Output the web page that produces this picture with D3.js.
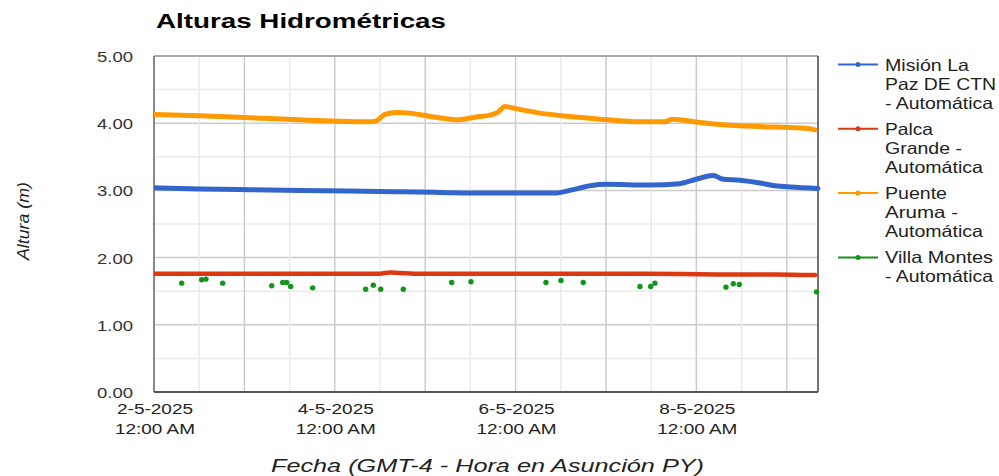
<!DOCTYPE html>
<html>
<head>
<meta charset="utf-8">
<script src="https://cdn.jsdelivr.net/npm/d3@7/dist/d3.min.js"></script>
<style>
html,body{margin:0;padding:0;background:#fff;}
svg{display:block;font-family:"Liberation Sans",Arial,sans-serif;}
</style>
</head>
<body>
<div id="chart"></div>
<script>
// ---------- DATA (hours after 2-5-2025 00:00, GMT-4) ----------
const chartTitle = "Alturas Hidrométricas";
const yAxisTitle = "Altura (m)";
const xAxisTitle = "Fecha (GMT-4 - Hora en Asunción PY)";
const seriesNames = ["Misión La Paz DE CTN - Automática", "Palca Grande - Automática", "Puente Aruma - Automática", "Villa Montes - Automática"];
const legendLines = [["Misión La", "Paz DE CTN", "- Automática"], ["Palca", "Grande -", "Automática"], ["Puente", "Aruma -", "Automática"], ["Villa Montes", "- Automática"]];
const seriesColors = ["#3366cc", "#dc3912", "#ff9900", "#109618"];
const yTicks = [0, 1, 2, 3, 4, 5];
const yTickLabels = ["0.00", "1.00", "2.00", "3.00", "4.00", "5.00"];
const xTickDays = [2, 4, 6, 8];
const xTickLabels = [["2-5-2025", "12:00 AM"], ["4-5-2025", "12:00 AM"], ["6-5-2025", "12:00 AM"], ["8-5-2025", "12:00 AM"]];
const endHour = 176.3;

const misionHours  = [0, 12.2, 25.5, 38.8, 52, 65.3, 75.9, 86.5, 97.2, 106.5, 110.4, 115.8, 120, 131.7, 139.6, 144.2, 148.4, 149.7, 150.8, 155.6, 160.9, 164.9, 168.9, 176.3];
const misionValues = [3.04, 3.02, 3.01, 3.00, 2.99, 2.98, 2.97, 2.96, 2.96, 2.96, 3.00, 3.07, 3.09, 3.08, 3.10, 3.17, 3.22, 3.20, 3.17, 3.15, 3.11, 3.07, 3.05, 3.03];

const palcaHours  = [0, 30, 60, 62.7, 65.3, 70, 100, 130, 150, 165, 175.5];
const palcaValues = [1.76, 1.76, 1.76, 1.78, 1.77, 1.76, 1.76, 1.76, 1.75, 1.75, 1.74];

const puenteHours  = [0, 12.2, 25.5, 38.8, 49.4, 57.3, 59.2, 61.3, 64.5, 67.9, 73.3, 78.6, 80.7, 85.2, 89.2, 91.3, 93.2, 95.8, 102.5, 110.4, 118.4, 129, 135.7, 137.5, 139.6, 144.9, 152.9, 160.9, 171.5, 173.6, 175.5];
const puenteValues = [4.13, 4.11, 4.08, 4.05, 4.03, 4.02, 4.04, 4.13, 4.16, 4.15, 4.10, 4.06, 4.05, 4.09, 4.12, 4.16, 4.25, 4.22, 4.15, 4.10, 4.06, 4.02, 4.02, 4.06, 4.05, 4.01, 3.97, 3.95, 3.93, 3.92, 3.90];

const villaHours  = [7.35, 12.66, 13.8, 18.24, 31.25, 34.17, 35.23, 36.29, 42.13, 56.2, 58.22, 60.19, 66.19, 79.04, 84.16, 104.07, 108.05, 113.97, 129.03, 131.87, 133.0, 151.86, 153.8, 155.4, 175.9];
const villaValues = [1.62, 1.67, 1.68, 1.62, 1.58, 1.63, 1.63, 1.57, 1.55, 1.53, 1.59, 1.53, 1.53, 1.63, 1.64, 1.63, 1.66, 1.63, 1.57, 1.57, 1.62, 1.56, 1.61, 1.60, 1.49];

// ---------- LAYOUT ----------
const W = 999, H = 476;
const plot = {left: 154, right: 818, top: 56, bottom: 392};
const t0 = new Date(2025, 4, 2, 0, 0);
const hourToDate = h => new Date(t0.getTime() + h * 3600000);

const svg = d3.select("#chart").append("svg").attr("width", W).attr("height", H);

const x = d3.scaleTime().domain([t0, hourToDate(endHour)]).range([plot.left, plot.right]);
const y = d3.scaleLinear().domain([0, 5]).range([plot.bottom, plot.top]);

// grid lines
const g = svg.append("g");
const halfSteps = d3.range(0, 5.01, 0.5);
g.selectAll("line.hg").data(halfSteps).join("line")
  .attr("x1", plot.left).attr("x2", plot.right)
  .attr("y1", d => y(d)).attr("y2", d => y(d))
  .attr("stroke", d => Number.isInteger(d) ? "#cccccc" : "#ebebeb")
  .attr("stroke-width", 1.5);
const vTimes = d3.timeHour.every(12).range(t0, hourToDate(endHour));
g.selectAll("line.vg").data(vTimes).join("line")
  .attr("x1", d => x(d)).attr("x2", d => x(d))
  .attr("y1", plot.top).attr("y2", plot.bottom)
  .attr("stroke", d => d.getHours() === 0 ? "#cccccc" : "#ebebeb")
  .attr("stroke-width", 1.5);

// border
svg.append("line").attr("x1", plot.left).attr("x2", plot.right).attr("y1", plot.top).attr("y2", plot.top).attr("stroke", "#999").attr("stroke-width", 1.5);
svg.append("line").attr("x1", plot.right).attr("x2", plot.right).attr("y1", plot.top).attr("y2", plot.bottom).attr("stroke", "#444").attr("stroke-width", 1.5);
svg.append("line").attr("x1", plot.left).attr("x2", plot.left).attr("y1", plot.top).attr("y2", plot.bottom).attr("stroke", "#888").attr("stroke-width", 2);
svg.append("line").attr("x1", plot.left).attr("x2", plot.right).attr("y1", plot.bottom).attr("y2", plot.bottom).attr("stroke", "#555").attr("stroke-width", 2);

// series
const line = d3.line().x(d => x(hourToDate(d[0]))).y(d => y(d[1])).curve(d3.curveMonotoneX);
const lineSeries = [
  {hours: misionHours, values: misionValues, color: seriesColors[0], w: 5},
  {hours: palcaHours, values: palcaValues, color: seriesColors[1], w: 4.5},
  {hours: puenteHours, values: puenteValues, color: seriesColors[2], w: 5}
];
svg.append("clipPath").attr("id", "clip").append("rect")
  .attr("x", plot.left).attr("y", plot.top).attr("width", plot.right - plot.left + 3).attr("height", plot.bottom - plot.top);
const marks = svg.append("g").attr("clip-path", "url(#clip)");
// draw order: orange, blue, red
[2, 0, 1].forEach(i => {
  const s = lineSeries[i];
  const pts = s.hours.map((h, k) => [h, s.values[k]]);
  marks.append("path").datum(pts).attr("d", line)
    .attr("fill", "none").attr("stroke", s.color).attr("stroke-width", s.w)
    .attr("stroke-linejoin", "round").attr("stroke-linecap", "round");
});
marks.selectAll("circle.vm").data(villaHours.map((h, k) => [h, villaValues[k]])).join("circle")
  .attr("cx", d => x(hourToDate(d[0]))).attr("cy", d => y(d[1])).attr("r", 2.7)
  .attr("fill", seriesColors[3]);

// y axis labels
svg.selectAll("text.yl").data(yTicks).join("text")
  .attr("x", 133).attr("y", d => y(d) + 6)
  .attr("text-anchor", "end").attr("font-size", 15.5).attr("fill", "#333")
  .attr("textLength", 36).attr("lengthAdjust", "spacingAndGlyphs")
  .text((d, i) => yTickLabels[i]);

// x axis labels
xTickDays.forEach((day, i) => {
  const xp = x(new Date(2025, 4, day, 0, 0));
  svg.append("text").attr("x", xp + 1).attr("y", 414).attr("text-anchor", "middle")
    .attr("font-size", 15.5).attr("fill", "#222")
    .attr("textLength", 76).attr("lengthAdjust", "spacingAndGlyphs").text(xTickLabels[i][0]);
  svg.append("text").attr("x", xp + 1).attr("y", 434).attr("text-anchor", "middle")
    .attr("font-size", 15.5).attr("fill", "#222")
    .attr("textLength", 80).attr("lengthAdjust", "spacingAndGlyphs").text(xTickLabels[i][1]);
});

// titles
svg.append("text").attr("x", 156).attr("y", 28).attr("font-size", 20).attr("font-weight", "bold")
  .attr("fill", "#000").attr("textLength", 290).attr("lengthAdjust", "spacingAndGlyphs").text(chartTitle);
svg.append("text").attr("transform", "translate(29,221) rotate(-90)").attr("text-anchor", "middle")
  .attr("font-size", 17).attr("font-style", "italic").attr("fill", "#222")
  .attr("textLength", 78).attr("lengthAdjust", "spacingAndGlyphs").text(yAxisTitle);
svg.append("text").attr("x", 487.5).attr("y", 472).attr("text-anchor", "middle")
  .attr("font-size", 17.5).attr("font-style", "italic").attr("fill", "#222")
  .attr("textLength", 433).attr("lengthAdjust", "spacingAndGlyphs").text(xAxisTitle);

// legend
const legendTextWidths = [[84, 111, 108], [48, 77, 98], [62, 73, 98], [108, 108]];
legendLines.forEach((lines, i) => {
  const base = 70.5 + 64.3 * i;
  const lg = svg.append("g");
  lg.append("line").attr("x1", 838).attr("x2", 878).attr("y1", base - 6).attr("y2", base - 6)
    .attr("stroke", seriesColors[i]).attr("stroke-width", 2);
  lg.append("circle").attr("cx", 858).attr("cy", base - 6).attr("r", 2.5).attr("fill", seriesColors[i]);
  lines.forEach((t, j) => {
    lg.append("text").attr("x", 885).attr("y", base + 19 * j).attr("font-size", 16.5).attr("fill", "#222")
      .attr("textLength", legendTextWidths[i][j]).attr("lengthAdjust", "spacingAndGlyphs").text(t);
  });
});
</script>
</body>
</html>
